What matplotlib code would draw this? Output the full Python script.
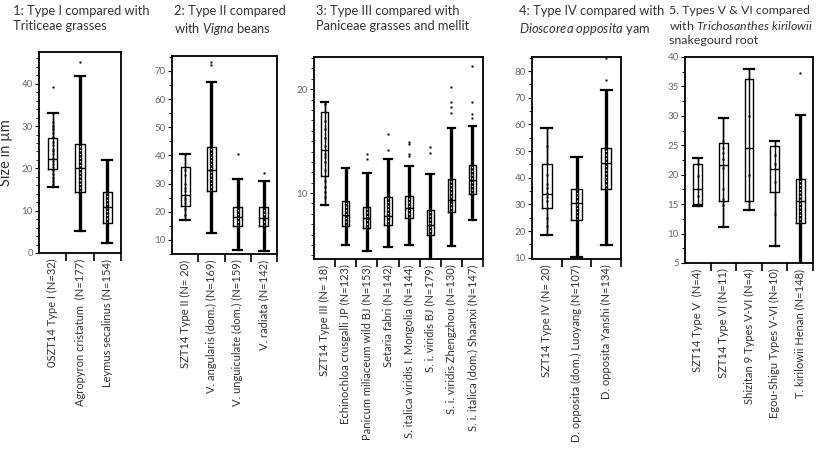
"""
淀粉粒尺寸对比箱线图（五组比较）
"""

import numpy as np
import matplotlib
matplotlib.use('Agg')
import matplotlib.pyplot as plt
from matplotlib.ticker import MultipleLocator

# ── 字体配置 ──────────────────────────────────────────────────────────────────
plt.rcParams['font.family'] = ['Lato', 'DejaVu Sans']
plt.rcParams['mathtext.fontset'] = 'custom'
plt.rcParams['mathtext.rm'] = 'Lato'
plt.rcParams['mathtext.it'] = 'Lato:italic'

# ── 数据（从原图读取，单位 µm）────────────────────────────────────────────────
# 1: Type I vs Triticeae
labels1 = ['0SZT14 Type I (N=32)', 'Agropyron cristatum  (N=177)', 'Leymus secalinus (N=154)']
counts1 = [32, 177, 154]
lo1 = [15.7, 5.2, 2.3]
q1_1 = [19.8, 14.3, 7.0]
med1 = [22.1, 20.0, 10.9]
q3_1 = [27.1, 25.8, 14.5]
hi1 = [33.2, 41.8, 22.0]
pts1 = [[39.3, 31.0, 30.0, 29.2, 28.4, 27.5, 26.3, 25.5, 24.6, 24.0, 23.3, 22.5,
         21.8, 21.0, 20.3, 19.5, 18.6, 17.8, 17.0, 16.3],
        [45.2],
        []]

# 2: Type II vs Vigna
labels2 = ['SZT14 Type II (N= 20)', 'V. angularis (dom.) (N=169)',
           'V. unguiculate (dom.) (N=159)', 'V. radiata (N=142)']
counts2 = [20, 169, 159, 142]
lo2 = [17.2, 12.4, 6.5, 5.9]
q1_2 = [21.9, 27.2, 14.8, 14.8]
med2 = [26.0, 34.9, 18.3, 17.8]
q3_2 = [35.8, 42.9, 21.7, 21.7]
hi2 = [40.6, 65.9, 31.7, 31.0]
pts2 = [[35.0, 33.0, 30.0, 28.5, 27.2, 25.0, 24.0, 23.0, 21.0, 19.0],
        [73.3, 72.2],
        [40.5],
        [33.7]]

# 3: Type III vs Paniceae
labels3 = ['SZT14 Type III (N= 18)', 'Echinochloa crusgalli JP (N=123)',
           'Panicum miliaceum wild BJ (N=153)', 'Setaria fabri (N=142)',
           'S. italica viridis I. Mongolia (N=144)', 'S. i. viridis BJ (N=179)',
           'S. i. viridis Zhengzhou (N=130)', 'S. i. italica (dom.) Shaanxi (N=147)']
counts3 = [18, 123, 153, 142, 144, 179, 130, 147]
lo3 = [8.85, 5.0, 4.45, 4.8, 5.0, 3.0, 4.9, 7.4]
q1_3 = [11.6, 6.8, 6.6, 6.9, 7.6, 5.96, 8.2, 9.9]
med3 = [14.1, 7.9, 7.6, 7.8, 8.6, 6.9, 9.3, 11.25]
q3_3 = [17.8, 9.2, 8.7, 9.6, 9.7, 8.4, 11.4, 12.7]
hi3 = [18.8, 12.4, 11.95, 13.3, 12.6, 11.8, 16.3, 16.5]
pts3 = [[18.6, 16.9, 16.2, 15.3, 14.5, 13.8, 13.5, 13.0, 12.2, 11.2, 10.6, 10.1, 9.6],
        [],
        [13.75, 13.3],
        [15.7, 14.1],
        [14.9, 14.7, 13.75, 13.55],
        [14.4, 13.9],
        [20.2, 18.8, 18.3, 17.7],
        [22.2, 18.8, 17.6, 17.2]]

# 4: Type IV vs Dioscorea opposita
labels4 = ['SZT14 Type IV (N= 20)', 'D. opposita (dom.) Luoyang (N=107)',
           'D. opposita Yanshi (N=134)']
counts4 = [20, 107, 134]
lo4 = [18.5, 10.3, 14.8]
q1_4 = [28.8, 24.0, 35.7]
med4 = [34.0, 30.5, 45.4]
q3_4 = [45.3, 35.6, 51.0]
hi4 = [58.8, 47.9, 72.8]
pts4 = [[52.0, 41.0, 37.6, 36.1, 34.1, 32.6, 31.3, 25.0, 22.0],
        [],
        [76.6, 84.8]]

# 5: Types V & VI vs Trichosanthes kirilowii
labels5 = ['SZT14 Type V  (N=4)', 'SZT14 Type VI (N=11)', 'Shizitan 9 Types V-VI (N=4)',
           'Egou-Shigu Types V-VI (N=10)', 'T. kirilowii Henan (N=148)']
counts5 = [4, 11, 4, 10, 148]
lo5 = [14.7, 11.2, 14.0, 7.9, 4.0]
q1_5 = [15.05, 15.6, 15.5, 17.1, 11.8]
med5 = [17.6, 21.7, 24.5, 21.0, 15.5]
q3_5 = [21.8, 25.4, 36.2, 24.8, 19.2]
hi5 = [22.9, 29.7, 38.0, 25.7, 30.1]
pts5 = [[19.7, 16.4],
        [25.8, 24.5, 23.7, 22.6, 21.1, 17.5, 15.9, 14.8],
        [30.0, 20.0],
        [23.3, 21.8, 18.8, 13.3],
        [37.3]]

W, H = 825, 454
fig = plt.figure(figsize=(W / 100, H / 100), dpi=100)


def px_rect(left, top, right, bottom):
    return [left / W, 1 - bottom / H, (right - left) / W, (bottom - top) / H]


def draw_panel(rect, labels, counts, lo, q1, med, q3, hi, pts, ylim, major, minor):
    ax = fig.add_axes(px_rect(*rect))
    n = len(labels)
    pos = np.arange(1, n + 1)
    stats = [dict(whislo=a, q1=b, med=c, q3=d, whishi=e, fliers=[])
             for a, b, c, d, e in zip(lo, q1, med, q3, hi)]
    ax.bxp(stats, positions=pos, widths=0.34, capwidths=0.36, showfliers=False,
           boxprops=dict(color='black', lw=1.0),
           medianprops=dict(color='black', lw=1.0),
           whiskerprops=dict(color='black', lw=1.0),
           capprops=dict(color='black', lw=1.6))

    # 样本多的组：点密集成粗线
    for p, nn, a, b, d, e in zip(pos, counts, lo, q1, q3, hi):
        if nn >= 50:
            ax.vlines(p, a, e, colors='black', lw=2.4, zorder=1.5)
            ax.vlines(p, b, d, colors='white', lw=0.9, linestyles=(0, (1, 2)), zorder=1.6)
        else:
            ax.vlines(p, a, e, colors='black', lw=1.0, zorder=1.5)

    for p, vals in zip(pos, pts):
        if vals:
            ax.plot([p] * len(vals), vals, 's', ms=1.7, color='black', mec='none', zorder=3)

    ax.set_xlim(0.5, n + 0.5)
    ax.set_ylim(*ylim)
    ax.set_xticks(pos + 0.5)
    ax.set_xticklabels([])
    ax.set_xticks(pos, labels, minor=True)
    ax.tick_params(axis='x', which='major', length=6, width=1.2, direction='out')
    ax.tick_params(axis='x', which='minor', length=0, pad=4, labelsize=8,
                   labelrotation=90, labelcolor='#333333')
    ax.yaxis.set_major_locator(MultipleLocator(major))
    ax.yaxis.set_minor_locator(MultipleLocator(minor))
    ax.tick_params(axis='y', which='major', length=3, width=0.8, labelsize=7,
                   labelcolor='#666666', pad=1.5)
    ax.tick_params(axis='y', which='minor', length=2, width=0.6)
    for s in ax.spines.values():
        s.set_linewidth(1.3)
    return ax


ax1 = draw_panel((39, 52, 121, 253), labels1, counts1, lo1, q1_1, med1, q3_1, hi1, pts1,
                 (0, 47.5), 10, 2)
draw_panel((172, 56, 277, 254), labels2, counts2, lo2, q1_2, med2, q3_2, hi2, pts2,
           (5, 75.3), 10, 5)
draw_panel((314, 57, 483, 259), labels3, counts3, lo3, q1_3, med3, q3_3, hi3, pts3,
           (3.65, 23.1), 10, 1)
draw_panel((532, 57, 621, 259), labels4, counts4, lo4, q1_4, med4, q3_4, hi4, pts4,
           (9.5, 85.3), 10, 5)
draw_panel((685, 57, 813, 263), labels5, counts5, lo5, q1_5, med5, q3_5, hi5, pts5,
           (5, 40), 5, 2.5)

ax1.set_ylabel('Size in µm', fontsize=10.5, color='#333333', labelpad=6)

# ── 标题 ──────────────────────────────────────────────────────────────────────
titles = [
    (13, 9.3, '1: Type I compared with\nTriticeae grasses'),
    (174, 9.3, '2: Type II compared\nwith $\\mathit{Vigna}$ beans'),
    (316, 9.3, '3: Type III compared with\nPaniceae grasses and mellit'),
    (519, 9.3, '4: Type IV compared with\n$\\mathit{Dioscorea\\ opposita}$ yam'),
    (669, 8.9, '5. Types V & VI compared\nwith $\\mathit{Trichosanthes\\ kirilowii}$\nsnakegourd root'),
]
for x, fs, t in titles:
    fig.text(x / W, 1 - 5 / H, t, ha='left', va='top', fontsize=fs,
             color='#333333', linespacing=1.3)

fig.savefig('out.png', dpi=100)
